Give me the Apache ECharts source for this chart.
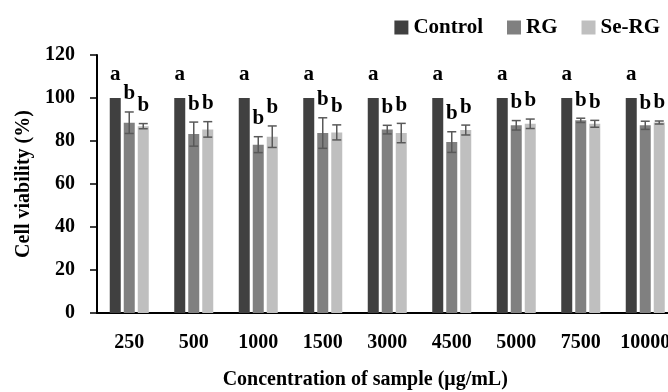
<!DOCTYPE html>
<html>
<head>
<meta charset="utf-8">
<script src="https://cdn.jsdelivr.net/npm/echarts@6/dist/echarts.min.js"></script>
<style>
html,body{margin:0;padding:0;background:#fff;}
#chart{width:668px;height:392px;}
</style>
</head>
<body>
<div id="chart"></div>
<script>
// ---- data ----
const categories = ['250', '500', '1000', '1500', '3000', '4500', '5000', '7500', '10000'];
const seriesNames = ['Control', 'RG', 'Se-RG'];
const controlMean = [100, 100, 100, 100, 100, 100, 100, 100, 100];
const controlSD = [0, 0, 0, 0, 0, 0, 0, 0, 0];
const rgMean = [88.5, 83.2, 78.3, 83.7, 85.3, 79.5, 87.3, 89.6, 87.3];
const rgSD = [5.0, 5.6, 3.7, 7.1, 2.0, 4.8, 2.2, 1.0, 1.9];
const seMean = [86.9, 85.4, 82.0, 84.0, 83.7, 85.1, 88.0, 88.0, 88.6];
const seSD = [1.2, 3.6, 5.0, 3.5, 4.5, 2.3, 2.2, 1.6, 0.7];
const controlLetters = ['a', 'a', 'a', 'a', 'a', 'a', 'a', 'a', 'a'];
const rgLetters = ['b', 'b', 'b', 'b', 'b', 'b', 'b', 'b', 'b'];
const seLetters = ['b', 'b', 'b', 'b', 'b', 'b', 'b', 'b', 'b'];
const yTicks = { min: 0, max: 120, interval: 20 };

// ---- style ----
const FONT = '"Liberation Serif", "Times New Roman", serif';
const colors = ['#404040', '#808080', '#bfbfbf'];
const BAR_W = 11, BAR_GAP = 3;

function errSeries(means, sds, letters, idx, letterOffset) {
  return {
    type: 'custom',
    z: 10,
    silent: true,
    encode: { x: 0, y: 1 },
    data: means.map((m, i) => [i, m, sds[i]]),
    renderItem: function (params, api) {
      const i = api.value(0), m = api.value(1), sd = api.value(2);
      const c = api.coord([i, m]);
      const x = c[0] + (idx - 1) * (BAR_W + BAR_GAP);
      const top = api.coord([i, m + sd])[1];
      const bot = api.coord([i, m - sd])[1];
      const children = [];
      const ls = { stroke: '#595959', lineWidth: 1.5 };
      if (sd > 0) {
        const hw = 4.5;
        children.push({ type: 'line', shape: { x1: x, y1: top, x2: x, y2: bot }, style: ls });
        children.push({ type: 'line', shape: { x1: x - hw, y1: top, x2: x + hw, y2: top }, style: ls });
        children.push({ type: 'line', shape: { x1: x - hw, y1: bot, x2: x + hw, y2: bot }, style: ls });
      }
      children.push({
        type: 'text',
        style: {
          x: x, y: top - letterOffset,
          text: letters[params.dataIndex],
          fill: '#000',
          font: 'bold 21px ' + FONT,
          textAlign: 'center', textVerticalAlign: 'middle'
        }
      });
      return { type: 'group', children: children };
    }
  };
}

const chart = echarts.init(document.getElementById('chart'), null, { renderer: 'canvas' });
const txt = { fontFamily: FONT, fontWeight: 'bold', fontSize: 20, color: '#000' };
chart.setOption({
  animation: false,
  backgroundColor: '#fff',
  color: colors,
  legend: {
    data: seriesNames,
    right: 3, top: 12,
    icon: 'rect', itemWidth: 14, itemHeight: 14, itemGap: 24,
    textStyle: Object.assign({}, txt, { fontSize: 21 })
  },
  grid: { left: 97, right: -9.5, top: 55, bottom: 79, containLabel: false, outerBoundsMode: 'none' },
  xAxis: {
    type: 'category',
    data: categories,
    axisLine: { lineStyle: { color: '#000', width: 2 } },
    axisTick: { show: false },
    axisLabel: Object.assign({}, txt, { margin: 20, interval: 0 }),
    name: 'Concentration of sample (μg/mL)',
    nameLocation: 'middle', nameGap: 57,
    nameTextStyle: Object.assign({}, txt, { padding: [0, 44, 0, 0] })
  },
  yAxis: {
    type: 'value',
    min: yTicks.min, max: yTicks.max, interval: yTicks.interval,
    axisLine: { show: true, lineStyle: { color: '#000', width: 2 } },
    axisTick: { show: true, length: 7, lineStyle: { color: '#000', width: 1.5 } },
    splitLine: { show: false },
    axisLabel: Object.assign({}, txt, { margin: 22 }),
    name: 'Cell viability (%)',
    nameLocation: 'middle', nameGap: 51, nameRotate: 90,
    nameTextStyle: txt
  },
  series: [
    { name: 'Control', type: 'bar', data: controlMean, barWidth: BAR_W, barGap: (BAR_GAP / BAR_W * 100) + '%' },
    { name: 'RG', type: 'bar', data: rgMean, barWidth: BAR_W, barGap: (BAR_GAP / BAR_W * 100) + '%' },
    { name: 'Se-RG', type: 'bar', data: seMean, barWidth: BAR_W, barGap: (BAR_GAP / BAR_W * 100) + '%' },
    errSeries(controlMean, controlSD, controlLetters, 0, 23),
    errSeries(rgMean, rgSD, rgLetters, 1, 18),
    errSeries(seMean, seSD, seLetters, 2, 18)
  ]
});
</script>
</body>
</html>
